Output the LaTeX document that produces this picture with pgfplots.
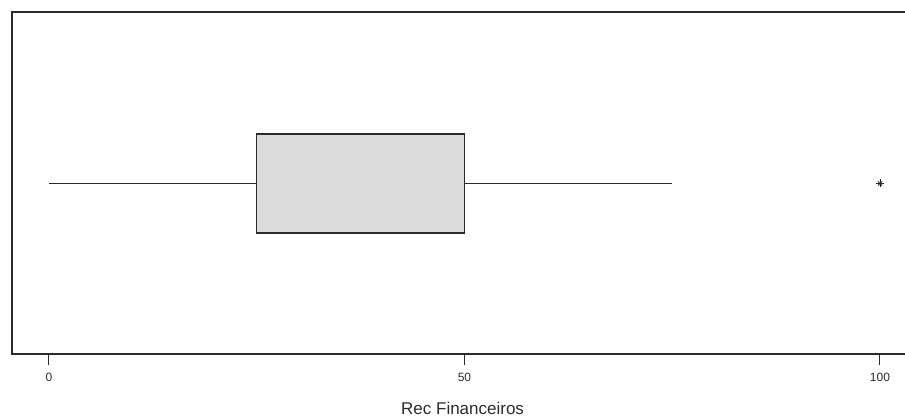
\documentclass[border=0pt]{standalone}
\usepackage{pgfplots}
\pgfplotsset{compat=1.18}
\usepgfplotslibrary{statistics}
\usepackage{fontspec}
\setmainfont{Liberation Sans}
\definecolor{linec}{HTML}{2B2B2B}
\definecolor{boxfill}{HTML}{DCDCDC}
\begin{document}
\begin{tikzpicture}
\begin{axis}[
  name=ax,
  x=8.31pt, y=1pt,
  xmin=-4.45, xmax=104, ymin=0, ymax=342,
  axis line style={draw=linec, line width=1.3pt},
  xtick={0,50,100},
  ytick=\empty,
  tick align=outside,
  xtick pos=bottom,
  major tick length=11pt,
  tick style={draw=linec, line width=1pt},
  /pgf/number format/assume math mode=true,
  xticklabel style={font=\fontsize{12}{12}\selectfont, text=linec, inner sep=0pt, anchor=north},
  xticklabel shift=8pt,
  xlabel={Rec Financeiros},
  xlabel style={font=\fontsize{17}{17}\selectfont, text=linec, inner sep=0pt, anchor=north,
    at={(axis description cs:0.5,0)}, yshift=-48pt},
]
\addplot[boxplot prepared={lower whisker=0, lower quartile=25, median=50,
    upper quartile=50, upper whisker=75, draw direction=x,
    draw position=170.5, box extend=99, whisker extend=0},
  draw=linec, fill=boxfill, line width=1.1pt,
  mark=+, mark size=4pt, mark options={draw=linec, line width=0.9pt}]
  coordinates {(0,100)};
\addplot[only marks, mark=x, mark size=3pt, mark options={draw=linec, line width=0.9pt}]
  coordinates {(100,170.5)};
\end{axis}
\pgfresetboundingbox
\path ([xshift=-12pt,yshift=-63pt]ax.south west) rectangle ([xshift=893pt,yshift=354pt]ax.south west);
\end{tikzpicture}
\end{document}
